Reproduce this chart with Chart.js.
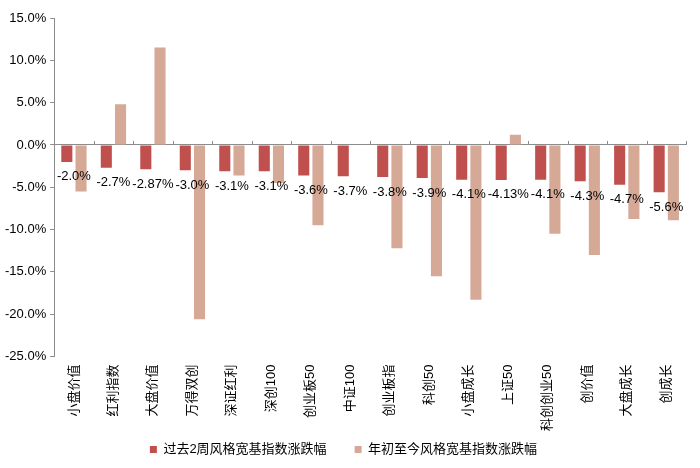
<!DOCTYPE html>
<html>
<head>
<meta charset="utf-8">
<script src="https://cdn.jsdelivr.net/npm/chart.js@4/dist/chart.umd.min.js"></script>
<style>
  html, body { margin: 0; padding: 0; background: #fff; }
  #wrap { width: 700px; height: 468px; }
</style>
</head>
<body>
<div id="wrap"><canvas id="styleChart"></canvas></div>
<script>
var categories = ['小盘价值', '红利指数', '大盘价值', '万得双创', '深证红利', '深创100', '创业板50', '中证100',
  '创业板指', '科创50', '小盘成长', '上证50', '科创创业50', '创价值', '大盘成长', '创成长'];
var twoWeekChange = [-2.0, -2.7, -2.87, -3.0, -3.1, -3.1, -3.6, -3.7, -3.8, -3.9, -4.1, -4.13, -4.1, -4.3, -4.7, -5.6];
var ytdChange = [-5.5, 4.8, 11.5, -20.6, -3.6, -4.5, -9.5, 0, -12.2, -15.5, -18.3, 1.2, -10.5, -13.0, -8.75, -8.9];
var seriesNames = ['过去2周风格宽基指数涨跌幅', '年初至今风格宽基指数涨跌幅'];

var fontFamily = "Arial, 'Liberation Sans', 'Noto Sans CJK SC', sans-serif";

function fmt(v) {
  return Number.isInteger(Math.round(v * 100) / 10) ? v.toFixed(1) : v.toFixed(2);
}

// value labels under the red bars + small category ticks on the zero line
var barLabels = {
  id: 'barLabels',
  afterLayout: function (chart) {
    // x labels run into the empty top part of the legend box; don't clip them
    chart.scales.x.bottom += 16;
  },
  afterDatasetsDraw: function (chart) {
    var ctx = chart.ctx;
    var meta = chart.getDatasetMeta(0);
    var xScale = chart.scales.x;
    var zeroY = chart.scales.y.getPixelForValue(0);
    ctx.save();
    ctx.strokeStyle = '#8c8c8c';
    ctx.lineWidth = 1;
    ctx.beginPath();
    for (var i = 0; i <= categories.length; i++) {
      var x = Math.round(xScale.getPixelForValue(i - 0.5)) + 0.5;
      ctx.moveTo(x, zeroY - 4);
      ctx.lineTo(x, zeroY);
    }
    ctx.stroke();
    ctx.font = '13px ' + fontFamily;
    ctx.fillStyle = '#000';
    ctx.textAlign = 'center';
    ctx.textBaseline = 'middle';
    meta.data.forEach(function (bar, i) {
      ctx.fillText(fmt(twoWeekChange[i]) + '%', xScale.getPixelForValue(i), bar.y + 15);
    });
    ctx.restore();
  }
};

var ctx = document.getElementById('styleChart').getContext('2d');

var chart = new Chart(ctx, {
  type: 'bar',
  data: {
    labels: categories,
    datasets: [{
      label: seriesNames[0],
      data: twoWeekChange,
      backgroundColor: '#C0504D',
      barPercentage: 0.78,
      categoryPercentage: 0.72
    }, {
      label: seriesNames[1],
      data: ytdChange,
      backgroundColor: '#D6A896',
      barPercentage: 0.78,
      categoryPercentage: 0.72
    }]
  },
  options: {
    responsive: true,
    maintainAspectRatio: false,
    animation: false,
    layout: { padding: { left: 1, right: 14, top: 18, bottom: 2 } },
    plugins: {
      legend: {
        position: 'bottom',
        labels: {
          boxWidth: 7,
          boxHeight: 7,
          padding: 28,
          color: '#000',
          font: { size: 13, family: fontFamily }
        }
      },
      tooltip: { enabled: false }
    },
    scales: {
      x: {
        grid: { display: false },
        border: { display: false },
        afterFit: function (scale) { scale.height -= 16; },
        ticks: {
          color: '#000',
          minRotation: 90,
          maxRotation: 90,
          autoSkip: false,
          padding: 0,
          font: { size: 13, family: fontFamily }
        }
      },
      y: {
        min: -25,
        max: 15,
        border: { display: true, color: '#8c8c8c' },
        grid: {
          drawOnChartArea: true,
          tickLength: 4,
          tickColor: '#8c8c8c',
          color: function (c) { return c.tick && c.tick.value === 0 ? '#8c8c8c' : 'rgba(0,0,0,0)'; }
        },
        ticks: {
          stepSize: 5,
          color: '#000',
          padding: 4,
          font: { size: 13, family: fontFamily },
          callback: function (v) { return v.toFixed(1) + '%'; }
        }
      }
    }
  },
  plugins: [barLabels]
});
</script>
</body>
</html>
